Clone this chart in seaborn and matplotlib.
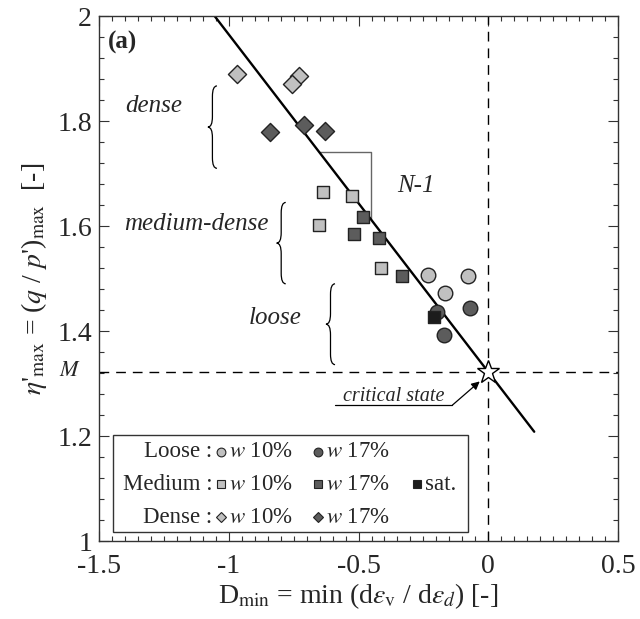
import numpy as np
import pandas as pd
import matplotlib
matplotlib.use("Agg")
import matplotlib.pyplot as plt
from matplotlib.path import Path
from matplotlib.patches import PathPatch, Rectangle
from matplotlib.ticker import MultipleLocator
import seaborn as sns

# ---- data: peak stress ratio vs. minimum dilatancy ----
loose_w10_D = [-0.231, -0.077, -0.165]
loose_w10_eta = [1.507, 1.505, 1.472]
loose_w17_D = [-0.197, -0.069, -0.169]
loose_w17_eta = [1.437, 1.443, 1.392]

medium_w10_D = [-0.636, -0.524, -0.653, -0.413]
medium_w10_eta = [1.664, 1.658, 1.602, 1.521]
medium_w17_D = [-0.481, -0.518, -0.422, -0.333]
medium_w17_eta = [1.617, 1.585, 1.577, 1.505]
medium_sat_D = [-0.208]
medium_sat_eta = [1.426]

dense_w10_D = [-0.967, -0.730, -0.758]
dense_w10_eta = [1.890, 1.886, 1.870]
dense_w17_D = [-0.842, -0.712, -0.628]
dense_w17_eta = [1.780, 1.792, 1.782]

# critical state stress ratio and stress-dilatancy line eta = M + k*D
M_cs = 1.322
k_slope = -0.643
line_D = [-1.054, 0.177]

x_ticks = [-1.5, -1.0, -0.5, 0.0, 0.5]
x_ticklabels = ["-1.5", "-1", "-0.5", "0", "0.5"]
y_ticks = [1.0, 1.2, 1.4, 1.6, 1.8, 2.0]
y_ticklabels = ["1", "1.2", "1.4", "1.6", "1.8", "2"]

LIGHT = "#c0c0c0"
DARK = "#5c5c5c"
SAT = "#1c1c1c"

sns.set_style("ticks")
plt.rcParams["font.family"] = ["Liberation Serif", "DejaVu Serif"]
plt.rcParams["mathtext.fontset"] = "stix"

frames = []
def add(D, eta, density, water):
    frames.append(pd.DataFrame({"D": D, "eta": eta, "density": density, "water": water}))

add(loose_w10_D, loose_w10_eta, "Loose", "w10")
add(loose_w17_D, loose_w17_eta, "Loose", "w17")
add(medium_w10_D, medium_w10_eta, "Medium", "w10")
add(medium_w17_D, medium_w17_eta, "Medium", "w17")
add(medium_sat_D, medium_sat_eta, "Medium", "sat")
add(dense_w10_D, dense_w10_eta, "Dense", "w10")
add(dense_w17_D, dense_w17_eta, "Dense", "w17")
df = pd.concat(frames, ignore_index=True)

fig = plt.figure(figsize=(6.4, 6.19), dpi=100)
ax = fig.add_axes([0.1547, 0.126, 0.811, 0.848])

# stress-dilatancy line
lx = np.array(line_D)
ax.plot(lx, M_cs + k_slope * lx, color="black", lw=1.7, zorder=2)

# reference lines at D = 0 and eta = M
ax.axvline(0, color="black", lw=1.0, ls=(0, (7, 5)), zorder=1)
ax.axhline(M_cs, color="black", lw=1.0, ls=(0, (7, 5)), zorder=1)

# slope triangle (N-1)
tx0, tx1 = -0.653, -0.452
ty0 = M_cs + k_slope * tx0
ty1 = M_cs + k_slope * tx1
ax.plot([tx0, tx1, tx1], [ty0, ty0, ty1], color="#666666", lw=1.0, zorder=1)
ax.text(-0.277, 1.677, "N-1", fontsize=18, style="italic", ha="center", va="center")

styles = {
    ("Loose", "w10"): dict(marker="o", color=LIGHT, s=110),
    ("Loose", "w17"): dict(marker="o", color=DARK, s=110),
    ("Medium", "w10"): dict(marker="s", color=LIGHT, s=80),
    ("Medium", "w17"): dict(marker="s", color=DARK, s=80),
    ("Medium", "sat"): dict(marker="s", color=SAT, s=80),
    ("Dense", "w10"): dict(marker="D", color=LIGHT, s=85),
    ("Dense", "w17"): dict(marker="D", color=DARK, s=85),
}
for (dens, wat), st in styles.items():
    sub = df[(df.density == dens) & (df.water == wat)]
    sns.scatterplot(data=sub, x="D", y="eta", ax=ax, marker=st["marker"],
                    color=st["color"], s=st["s"], edgecolor="#222222",
                    linewidth=1.0, legend=False, zorder=3)

# critical state point
ax.plot([0], [M_cs], marker="*", ms=17, mfc="white", mec="black", mew=1.0, zorder=4)
ax.plot([-0.592, -0.138], [1.259, 1.259], color="black", lw=0.9)
ax.annotate("", xy=(-0.033, 1.304), xytext=(-0.138, 1.259),
            arrowprops=dict(arrowstyle="-|>", color="black", lw=0.9,
                            mutation_scale=12, shrinkA=0, shrinkB=0))
ax.text(-0.365, 1.276, "critical state", fontsize=14.5, style="italic",
        ha="center", va="center")


def brace(ax, x, y0, y1, w, h):
    """Left-pointing curly brace spanning y0..y1 at x."""
    xr, xl = x + w / 2, x - w / 2
    ym = (y0 + y1) / 2
    verts = [(xr, y1), (x, y1), (x, y1 - h),
             (x, ym + h),
             (x, ym), (xl, ym),
             (x, ym), (x, ym - h),
             (x, y0 + h),
             (x, y0), (xr, y0)]
    codes = [Path.MOVETO, Path.CURVE3, Path.CURVE3,
             Path.LINETO,
             Path.CURVE3, Path.CURVE3,
             Path.CURVE3, Path.CURVE3,
             Path.LINETO,
             Path.CURVE3, Path.CURVE3]
    ax.add_patch(PathPatch(Path(verts, codes), fc="none", ec="black", lw=0.9))


brace(ax, -1.063, 1.710, 1.867, 0.035, 0.02)
brace(ax, -0.798, 1.490, 1.645, 0.035, 0.02)
brace(ax, -0.608, 1.336, 1.490, 0.035, 0.02)
ax.text(-1.29, 1.828, "dense", fontsize=18, style="italic", ha="center", va="center")
ax.text(-1.124, 1.604, "medium-dense", fontsize=18, style="italic", ha="center", va="center")
ax.text(-0.82, 1.424, "loose", fontsize=18, style="italic", ha="center", va="center")

ax.text(0.017, 0.95, "(a)", transform=ax.transAxes, fontsize=18,
        fontweight="bold", ha="left", va="center")
ax.text(-0.035, M_cs, "$M$", transform=ax.get_yaxis_transform(),
        fontsize=16, ha="right", va="center")

# hand-built legend panel
ax.add_patch(Rectangle((0.027, 0.017), 0.684, 0.185, transform=ax.transAxes,
                       fc="white", ec="#333333", lw=1.0, zorder=5))
rows = [("Loose :", 0.170, "o"), ("Medium :", 0.1086, "s"), ("Dense :", 0.0457, "D")]
msz = {"o": 6.3, "s": 5.6, "D": 5.6}
LEG_FS = 16.5
for label, yy, mk in rows:
    ax.text(0.219, yy, label, transform=ax.transAxes, fontsize=LEG_FS,
            ha="right", va="center", zorder=6)
    ax.plot([0.235], [yy], marker=mk, ms=msz[mk], mfc=LIGHT, mec="#222222",
            mew=0.8, transform=ax.transAxes, zorder=6, clip_on=False)
    ax.text(0.250, yy, "$w$ 10%", transform=ax.transAxes, fontsize=LEG_FS,
            ha="left", va="center", zorder=6)
    ax.plot([0.422], [yy], marker=mk, ms=msz[mk], mfc=DARK, mec="#222222",
            mew=0.8, transform=ax.transAxes, zorder=6, clip_on=False)
    ax.text(0.438, yy, "$w$ 17%", transform=ax.transAxes, fontsize=LEG_FS,
            ha="left", va="center", zorder=6)
ax.plot([0.613], [0.1086], marker="s", ms=5.6, mfc=SAT, mec="#222222",
        mew=0.8, transform=ax.transAxes, zorder=6, clip_on=False)
ax.text(0.628, 0.1086, "sat.", transform=ax.transAxes, fontsize=LEG_FS,
        ha="left", va="center", zorder=6)

ax.set_xlim(-1.5, 0.5)
ax.set_ylim(1.0, 2.0)
ax.set_xticks(x_ticks)
ax.set_xticklabels(x_ticklabels)
ax.set_yticks(y_ticks)
ax.set_yticklabels(y_ticklabels)
ax.xaxis.set_minor_locator(MultipleLocator(0.05))
ax.yaxis.set_minor_locator(MultipleLocator(0.04))
ax.tick_params(which="both", direction="in", top=True, right=True,
               color="#333333", width=0.8)
ax.tick_params(which="major", length=7, labelsize=20)
ax.tick_params(which="minor", length=3.5)
ax.tick_params(axis="x", which="major", pad=9)
ax.tick_params(axis="y", which="major", pad=5)
for sp in ax.spines.values():
    sp.set_linewidth(1.0)
    sp.set_color("#333333")

ax.set_xlabel(r"D$_{\rm min}$ = min (d$\varepsilon_{\rm v}$ / d$\varepsilon_{d}$) [-]",
              fontsize=20, labelpad=2)
ax.set_ylabel(r"$\eta$'$_{\rm max}$ = ($q$ / $p$')$_{\rm max}$  [-]",
              fontsize=20, labelpad=6)

fig.savefig("out.png", dpi=100)
